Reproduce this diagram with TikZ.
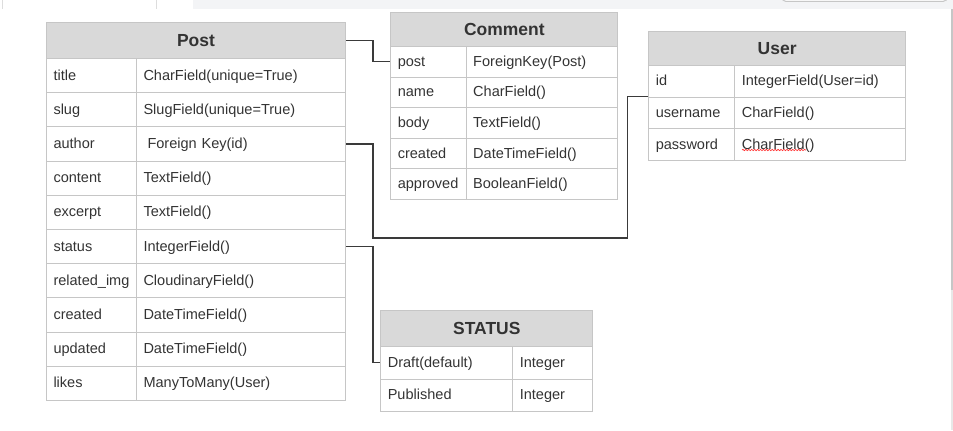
\documentclass[tikz,border=0pt]{standalone}
\usepackage{fontspec}
\setmainfont{Liberation Sans}
\usetikzlibrary{decorations.pathmorphing}

\definecolor{hdrgray}{RGB}{217,217,217}
\definecolor{gridgray}{RGB}{198,198,198}
\definecolor{txtgray}{RGB}{51,51,51}
\definecolor{wiregray}{RGB}{58,58,58}
\definecolor{stripgray}{RGB}{243,244,246}

\tikzset{every picture/.style={line width=0.75pt}}
\tikzset{
  cell/.style={draw=gridgray, anchor=north west, inner xsep=5.25pt, inner ysep=0pt, align=left,
    text=txtgray, font=\fontsize{10.9}{13}\selectfont, text height=8.4pt, text depth=1.8pt},
  hdr/.style={draw=gridgray, fill=hdrgray, anchor=north west, inner sep=0pt, text=txtgray,
    font=\fontsize{13.1}{15}\selectfont\bfseries},
  postk/.style={cell, text width=57pt, minimum height=25.65pt},
  postv/.style={cell, text width=146.25pt, minimum height=25.65pt},
  comk/.style={cell, text width=46.05pt, minimum height=22.95pt},
  comv/.style={cell, text width=103.2pt, minimum height=22.95pt},
  userk/.style={cell, text width=54pt, minimum height=23.8pt},
  userv/.style={cell, text width=117.5pt, minimum height=23.8pt},
  statk/.style={cell, text width=88.5pt, minimum height=24.4pt},
  statv/.style={cell, text width=49.5pt, minimum height=24.4pt},
  link/.style={draw=wiregray, line width=1pt},
}

\begin{document}
\begin{tikzpicture}[x=0.75pt,y=0.75pt,yscale=-1,xscale=1]
\useasboundingbox (0,0) rectangle (953,430);

%Page strip at the top
\fill[stripgray] (193,0) rectangle (953,9);
\draw[gridgray!60] (2,0) -- (2,9) (156,0) -- (156,9);
\draw[gridgray, fill=white, rounded corners=2pt] (783,-4) rectangle (946,1.3);
\draw[gridgray, line width=1pt] (952,9) -- (952,290);
\draw[gridgray!40, line width=1pt] (952,290) -- (952,430);

%Post table
\node[hdr, minimum width=224.25pt, minimum height=27pt] (post) at (46,22) {Post};
\node[postk] (pk1) at (46,58) {title};
\node[postv] (pv1) at (136,58) {CharField(unique=True)};
\node[postk] (pk2) at (46,92.2) {slug};
\node[postv] (pv2) at (136,92.2) {SlugField(unique=True)};
\node[postk] (pk3) at (46,126.4) {author};
\node[postv] (pv3) at (136,126.4) {\hspace*{3pt}Foreign Key(id)};
\node[postk] (pk4) at (46,160.6) {content};
\node[postv] (pv4) at (136,160.6) {TextField()};
\node[postk] (pk5) at (46,194.8) {excerpt};
\node[postv] (pv5) at (136,194.8) {TextField()};
\node[postk] (pk6) at (46,229) {status};
\node[postv] (pv6) at (136,229) {IntegerField()};
\node[postk] (pk7) at (46,263.2) {related\_img};
\node[postv] (pv7) at (136,263.2) {CloudinaryField()};
\node[postk] (pk8) at (46,297.4) {created};
\node[postv] (pv8) at (136,297.4) {DateTimeField()};
\node[postk] (pk9) at (46,331.6) {updated};
\node[postv] (pv9) at (136,331.6) {DateTimeField()};
\node[postk] (pk10) at (46,365.8) {likes};
\node[postv] (pv10) at (136,365.8) {ManyToMany(User)};

%Comment table
\node[hdr, minimum width=170.25pt, minimum height=25.3pt] (comment) at (390.3,12.3) {Comment};
\node[comk] (ck1) at (390.3,46) {post};
\node[comv] (cv1) at (465.7,46) {ForeignKey(Post)};
\node[comk] (ck2) at (390.3,76.6) {name};
\node[comv] (cv2) at (465.7,76.6) {CharField()};
\node[comk] (ck3) at (390.3,107.2) {body};
\node[comv] (cv3) at (465.7,107.2) {TextField()};
\node[comk] (ck4) at (390.3,137.8) {created};
\node[comv] (cv4) at (465.7,137.8) {DateTimeField()};
\node[comk] (ck5) at (390.3,168.4) {approved};
\node[comv] (cv5) at (465.7,168.4) {BooleanField()};

%User table
\node[hdr, minimum width=192.5pt, minimum height=25.7pt] (user) at (648.3,30.7) {User};
\node[userk] (uk1) at (648.3,65) {id};
\node[userv] (uv1) at (734.3,65) {IntegerField(User=id)};
\node[userk] (uk2) at (648.3,96.7) {username};
\node[userv] (uv2) at (734.3,96.7) {CharField()};
\node[userk] (uk3) at (648.3,128.4) {password};
\node[userv] (uv3) at (734.3,128.4) {CharField()};
\draw[red!80, line width=0.5pt, decorate, decoration={snake, amplitude=0.5pt, segment length=2.2pt}] (742,150) -- (806,150);

%STATUS table
\node[hdr, minimum width=159pt, minimum height=27pt] (status) at (380.3,310) {STATUS};
\node[statk] (sk1) at (380.3,346) {Draft(default)};
\node[statv] (sv1) at (512.3,346) {Integer};
\node[statk] (sk2) at (380.3,378.5) {Published};
\node[statv] (sv2) at (512.3,378.5) {Integer};

%Connectors
\draw[link] (post.east) -- ++(27,0) |- (ck1.west);
\draw[link] (pv3.east) -- ++(27,0) -- ++(0,94) -| ([xshift=-15.75pt]uk2.north west) -- (uk2.north west);
\draw[link] (pv6.east) -- ++(27,0) |- (sk1.west);

\end{tikzpicture}
\end{document}
